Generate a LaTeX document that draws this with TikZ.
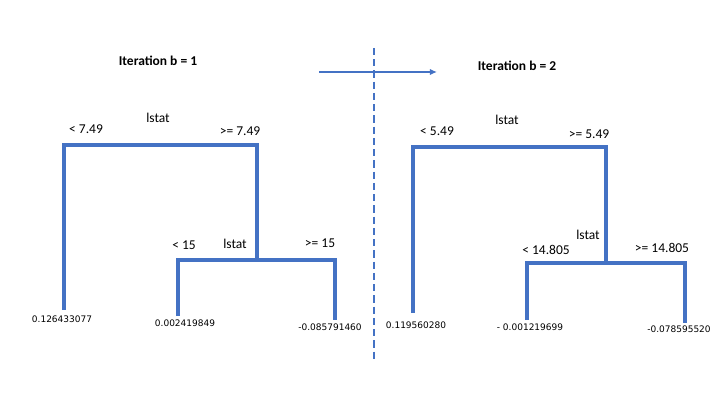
\documentclass[tikz,border=0pt]{standalone}
\usepackage{fontspec}
\setmainfont{Carlito}
\newfontfamily\leaffont{DejaVu Sans}
\usetikzlibrary{arrows.meta}
\definecolor{treeblue}{RGB}{68,114,196}
\begin{document}
\begin{tikzpicture}[x=0.025cm, y=-0.025cm,
    branch/.style={draw=treeblue, line width=2.6pt},
    label/.style={inner sep=0pt, font=\fontsize{9.6}{11}\selectfont},
    title/.style={inner sep=0pt, font=\fontsize{9.6}{11}\selectfont\bfseries},
    leaf/.style={inner sep=0pt, anchor=north, font=\leaffont\fontsize{6.4}{8}\selectfont},
    line/.style={draw=treeblue, line width=1.4pt, -{Latex[length=5pt,width=4.5pt]}}]
    \useasboundingbox (0,0) rectangle (720,405);

    % iteration b = 1
    \node [title] (title1) at (158,61) {Iteration b = 1};
    \node [label] (var1) at (158,118) {lstat};
    \node [label] (lt1) at (86,129) {< 7.49};
    \node [label] (ge1) at (240,131) {>= 7.49};
    \coordinate (top1) at (257,145);
    \coordinate (split1) at (257,260);
    \coordinate (end1a) at (64,310);
    \coordinate (end1b) at (178,316);
    \coordinate (end1c) at (335,320);
    \node [label] (var1b) at (235,244) {lstat};
    \node [label] (lt1b) at (184,245) {< 15};
    \node [label] (ge1b) at (320,243) {>= 15};
    \node [leaf] (leaf1a) at (62,316) {0.126433077};
    \node [leaf] (leaf1b) at (185,320) {0.002419849};
    \node [leaf] (leaf1c) at (330,324) {-0.085791460};

    \path [branch] (end1a) |- (top1) -- (split1);
    \path [branch] (end1b) |- (split1) -| (end1c);

    % separator
    \coordinate (sepTop) at (374,48);
    \coordinate (sepBot) at (374,362);
    \draw [treeblue, line width=1.4pt, dash pattern=on 5pt off 3pt] (sepTop) -- (sepBot);
    \coordinate (arrFrom) at (319,72);
    \coordinate (arrTo) at (437,72);
    \path [line] (arrFrom) -- (arrTo);

    % iteration b = 2
    \node [title] (title2) at (517,66) {Iteration b = 2};
    \node [label] (var2) at (507,120) {lstat};
    \node [label] (lt2) at (437,131) {< 5.49};
    \node [label] (ge2) at (589,134) {>= 5.49};
    \coordinate (top2) at (606,147);
    \coordinate (split2) at (606,263);
    \coordinate (end2a) at (413,313);
    \coordinate (end2b) at (527,320);
    \coordinate (end2c) at (685,323);
    \node [label] (var2b) at (588,235) {lstat};
    \node [label] (lt2b) at (546,250) {< 14.805};
    \node [label] (ge2b) at (662,248) {>= 14.805};
    \node [leaf] (leaf2a) at (416,322) {0.119560280};
    \node [leaf] (leaf2b) at (530,324) {- 0.001219699};
    \node [leaf] (leaf2c) at (679,326) {-0.078595520};

    \path [branch] (end2a) |- (top2) -- (split2);
    \path [branch] (end2b) |- (split2) -| (end2c);
\end{tikzpicture}
\end{document}
